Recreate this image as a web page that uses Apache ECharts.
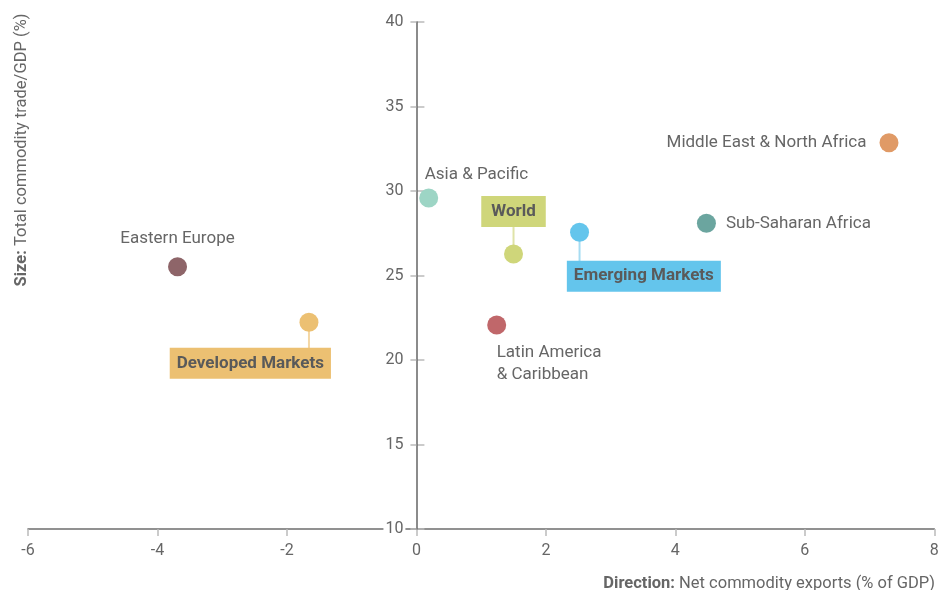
<!DOCTYPE html>
<html><head><meta charset="utf-8">
<script src="https://cdn.jsdelivr.net/npm/echarts@6/dist/echarts.min.js"></script>
<style>html,body{margin:0;padding:0;background:#fff}#c{width:944px;height:590px}</style>
</head><body><div id="c"></div>
<script>
// ---- data ----
const regions = ['Eastern Europe','Developed Markets','Asia & Pacific','World','Latin America\n& Caribbean','Emerging Markets','Sub-Saharan Africa','Middle East & North Africa'];
const netExports = [-3.69, -1.66, 0.19, 1.50, 1.24, 2.52, 4.48, 7.30];
const tradeSize  = [25.52, 22.23, 29.59, 26.27, 22.07, 27.56, 28.09, 32.86];
const xRange = [-6, 8];
const yRange = [10, 40];

// ---- styles ----
const FONT = 'Roboto, sans-serif';
const dotColors = {
  'Eastern Europe':'#8e6569','Developed Markets':'#ecc072','Asia & Pacific':'#9dd5c5','World':'#cfd67a',
  'Latin America\n& Caribbean':'#c0676a','Emerging Markets':'#64c5ec','Sub-Saharan Africa':'#6ba59f','Middle East & North Africa':'#e09a66'
};
const labelCfg = {
  'Eastern Europe': {position:'top', distance:8},
  'Developed Markets': {position:'bottom', distance:16, align:'right', offset:[22,0], box:true, padding:[6,7]},
  'Asia & Pacific': {position:'top', distance:4, align:'left', offset:[-4,0]},
  'World': {position:'top', distance:17.5, box:true, padding:[6,10]},
  'Latin America\n& Caribbean': {position:'bottom', distance:7, align:'left', lineHeight:22},
  'Emerging Markets': {position:'bottom', distance:19, align:'left', offset:[-12.7,0], box:true, padding:[6,7]},
  'Sub-Saharan Africa': {position:'right', distance:10},
  'Middle East & North Africa': {position:'left', distance:13}
};
const connectorCfg = {
  'World': {len:27, dir:-1, color:'#dfe3a8'},
  'Emerging Markets': {len:29, dir:1, color:'#a6dcf2'},
  'Developed Markets': {len:26, dir:1, color:'#f4d7a4'}
};

const dotData = regions.map((n, i) => {
  const c = labelCfg[n];
  const label = {
    show: true, formatter: '{b}', position: c.position, distance: c.distance,
    fontFamily: FONT, fontSize: 17, color: '#666', lineHeight: c.lineHeight || 20
  };
  if (c.align) label.align = c.align;
  if (c.offset) label.offset = c.offset;
  if (c.box) {
    Object.assign(label, {backgroundColor: dotColors[n], padding: c.padding, fontWeight: 'bold',
      color: '#5a5a5a', fontSize: 17, lineHeight: 19});
  }
  return {name: n, value: [netExports[i], tradeSize[i]], itemStyle: {color: dotColors[n], opacity: 1}, label};
});
const connData = [];
regions.forEach((n, i) => {
  const c = connectorCfg[n];
  if (!c) return;
  connData.push({name: n, value: [netExports[i], tradeSize[i]],
    symbolSize: [2, c.len], symbolOffset: [0, c.dir * c.len / 2], itemStyle: {color: c.color, opacity: 1}});
});

const W = 944, gridLeft = 28, gridRight = 9.7;
const gridW = W - gridLeft - gridRight;
// place the y axis where x = 0 lies
const yAxisOffset = -gridW * (0 - xRange[0]) / (xRange[1] - xRange[0]);

const chart = echarts.init(document.getElementById('c'), null, {renderer: 'canvas'});
const axisColor = '#6e6e6e';
chart.setOption({
  animation: false,
  grid: {left: gridLeft, right: gridRight, top: 22, bottom: 61, containLabel: false, outerBoundsMode: 'none'},
  xAxis: {
    type: 'value', min: xRange[0], max: xRange[1], interval: 2,
    axisLine: {onZero: false, lineStyle: {color: axisColor, width: 1.6}},
    axisTick: {show: true, length: 7, lineStyle: {color: '#bbb', width: 1.5}},
    axisLabel: {margin: 14, fontFamily: FONT, fontSize: 16, color: '#666'},
    splitLine: {show: false}
  },
  yAxis: [{
    type: 'value', min: yRange[0], max: yRange[1], interval: 5, position: 'left', offset: yAxisOffset,
    axisLine: {onZero: false, lineStyle: {color: axisColor, width: 1.6}},
    axisTick: {show: true, length: 6, lineStyle: {color: '#bbb', width: 1.5}},
    axisLabel: {margin: 11, fontFamily: FONT, fontSize: 16, color: '#666', backgroundColor: '#fff', padding: [0, 2]},
    splitLine: {show: false}, z: 3
  }, {
    type: 'value', min: yRange[0], max: yRange[1], interval: 5, position: 'left', offset: yAxisOffset,
    axisLine: {show: false, onZero: false},
    axisTick: {show: true, inside: true, length: 8, lineStyle: {color: '#bbb', width: 1.5}},
    axisLabel: {show: false},
    splitLine: {show: false}
  }],
  series: [{
    type: 'scatter', z: 1, silent: true, symbol: 'rect', data: connData, label: {show: false}
  }, {
    type: 'scatter', z: 2, symbolSize: 19, data: dotData
  }],
  graphic: [{
    type: 'text', x: 22, y: 150, rotation: Math.PI / 2,
    style: {
      text: '{b|Size:} Total commodity trade/GDP (%)',
      fontFamily: FONT, fontSize: 16.5, fill: '#666', align: 'center', verticalAlign: 'middle',
      rich: {b: {fontWeight: 'bold', fontFamily: FONT, fontSize: 16.5, fill: '#666'}}
    }
  }, {
    type: 'text', x: 935, y: 575,
    style: {
      text: '{b|Direction:} Net commodity exports (% of GDP)',
      fontFamily: FONT, fontSize: 16.5, fill: '#666', align: 'right', verticalAlign: 'top',
      rich: {b: {fontWeight: 'bold', fontFamily: FONT, fontSize: 16.5, fill: '#666'}}
    }
  }]
});
</script></body></html>
